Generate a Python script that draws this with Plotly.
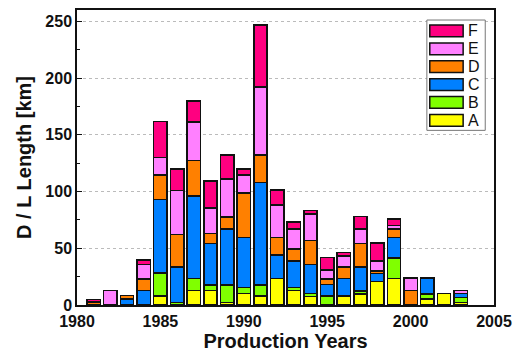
import plotly.graph_objects as go

# Production year of each batch
years = list(range(1981, 2004))

# D/L length per category [km], stacked A (bottom) to F (top)
len_a = [0, 0, 0, 0, 7.9, 0, 12.6, 12.6, 2.3, 10.2, 7.9, 23.4, 12.6, 7.3, 0, 7.9, 9.6, 20.5, 23.4, 0, 5.3, 10.2, 2.3]
len_b = [0, 0, 0, 0, 20.5, 2.3, 10.8, 5.0, 15.2, 5.3, 9.6, 0, 2.9, 2.9, 7.9, 0, 2.9, 0, 18.1, 0, 4.4, 0, 4.1]
len_c = [0, 0, 5.3, 12.6, 64.6, 31.3, 72.5, 36.5, 49.7, 43.9, 90.6, 20.5, 23.1, 25.4, 10.2, 15.5, 21.1, 7.3, 17.8, 0, 14.3, 0, 3.8]
len_d = [2.5, 0, 3.0, 10.5, 21.6, 28.7, 31.3, 8.8, 10.2, 39.2, 24.0, 15.5, 10.8, 21.3, 4.7, 10.2, 20.5, 2.3, 7.6, 12.6, 0, 0, 0]
len_e = [0, 13.0, 0, 12.6, 15.5, 38.6, 34.2, 22.5, 33.6, 16.1, 59.9, 28.9, 17.8, 23.4, 7.9, 9.6, 12.9, 8.5, 3.2, 11.4, 0, 0, 2.6]
len_f = [2.5, 0, 0, 3.8, 31.6, 19.0, 18.4, 23.7, 21.3, 5.3, 55.0, 13.2, 5.8, 2.9, 11.1, 2.9, 11.1, 16.1, 5.6, 0, 0, 0, 0]

series = [
    ("A", len_a, "#ffff00"),
    ("B", len_b, "#80ff00"),
    ("C", len_c, "#0080ff"),
    ("D", len_d, "#ff8000"),
    ("E", len_e, "#ff80ff"),
    ("F", len_f, "#ff0080"),
]

FONT = "Liberation Sans, Arial, sans-serif"
INK = "#111111"

fig = go.Figure()
for name, vals, color in series:
    fig.add_trace(go.Bar(
        x=years,
        y=[v if v > 0 else None for v in vals],
        name=name,
        width=0.8,
        marker=dict(color=color, line=dict(color=INK, width=1.5)),
        showlegend=False,
    ))

# Boxed key in the upper right: wide swatches with the letter beside each, F on top
shapes = []
annotations = []
box_x0, box_x1 = 0.839, 0.979
box_y0, box_y1 = 0.592, 0.966
shapes.append(dict(type="rect", xref="paper", yref="paper",
                   x0=box_x0, x1=box_x1, y0=box_y0, y1=box_y1,
                   line=dict(color="#777777", width=1), fillcolor="white", layer="above"))
row_h = 0.0606
for i, (name, _, color) in enumerate(reversed(series)):
    yc = 0.929 - i * row_h
    shapes.append(dict(type="rect", xref="paper", yref="paper",
                       x0=0.846, x1=0.926, y0=yc - 0.020, y1=yc + 0.020,
                       line=dict(color=INK, width=1.5), fillcolor=color, layer="above"))
    annotations.append(dict(xref="paper", yref="paper", x=0.932, y=yc,
                            xanchor="left", yanchor="middle", text=name, showarrow=False,
                            font=dict(family=FONT, size=16, color=INK)))

fig.update_layout(
    barmode="stack",
    width=520,
    height=352,
    margin=dict(l=77, r=26, t=8, b=47),
    paper_bgcolor="white",
    plot_bgcolor="white",
    showlegend=False,
    shapes=shapes,
    annotations=annotations,
    xaxis=dict(
        range=[1980, 2005],
        tickvals=[1980, 1985, 1990, 1995, 2000, 2005],
        ticks="",
        showgrid=False, zeroline=False,
        showline=True, mirror=True, linecolor=INK, linewidth=1.5,
        tickfont=dict(family=FONT, size=16, color=INK, weight="bold"),
        ticklabelstandoff=1,
        title=dict(text="Production Years",
                   font=dict(family=FONT, size=20, color=INK, weight="bold"),
                   standoff=0),
    ),
    yaxis=dict(
        range=[0, 260],
        tickvals=[0, 50, 100, 150, 200, 250],
        ticks="inside", ticklen=5, tickwidth=1.2, tickcolor=INK,
        minor=dict(dtick=25, tick0=0, ticks="inside", ticklen=3, tickcolor=INK, showgrid=False),
        showgrid=True, gridcolor="#bbbbbb", griddash="dot", gridwidth=1,
        zeroline=False,
        showline=True, mirror=True, linecolor=INK, linewidth=1.5,
        tickfont=dict(family=FONT, size=16, color=INK, weight="bold"),
        title=dict(text="D / L Length [km]",
                   font=dict(family=FONT, size=20, color=INK, weight="bold"),
                   standoff=8),
    ),
)

fig.write_html("out.html")
